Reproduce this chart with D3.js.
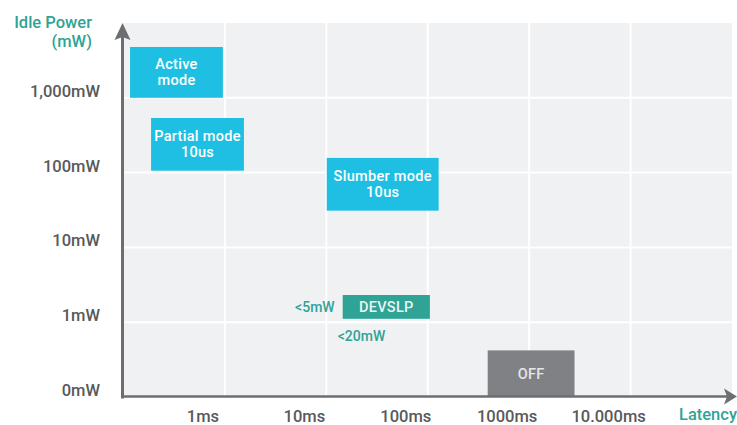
<!DOCTYPE html>
<html>
<head>
<meta charset="utf-8">
<script src="https://cdn.jsdelivr.net/npm/d3@7"></script>
<style>
  html, body { margin: 0; padding: 0; background: #ffffff; }
  svg { display: block; font-family: Roboto, "Noto Sans", sans-serif; font-weight: 500; }
</style>
</head>
<body>
<svg id="chart" width="737" height="425"></svg>
<script>
// Latency ticks (ms) and their labels
const xTicks = [1, 10, 100, 1000, 10000];
const xTickLabels = ["1ms", "10ms", "100ms", "1000ms", "10.000ms"];

// Idle power ticks (mW); the bottom of the log axis stands in for 0mW
const yTicks = [0.1, 1, 10, 100, 1000];
const yTickLabels = ["0mW", "1mW", "10mW", "100mW", "1,000mW"];

// Power states: latency range (ms) and idle power range (mW)
const stateNames  = ["Active", "Partial", "Slumber", "DEVSLP", "OFF"];
const stateLines  = [["Active", "mode"], ["Partial mode", "10us"], ["Slumber mode", "10us"], ["DEVSLP"], ["OFF"]];
const latencyLow  = [0.116, 0.187, 10.1, 14.5, 390];
const latencyHigh = [0.955, 1.54, 128, 105, 2800];
const powerLow    = [1000, 106, 31, 1.11, 0.1];
const powerHigh   = [4780, 537, 157, 2.31, 0.42];
const stateKinds  = ["link", "link", "link", "devslp", "off"];

// DEVSLP side notes
const noteTexts = ["<5mW", "<20mW"];

const colors = { link: "#1ebfe2", devslp: "#2ea396", off: "#808184" };
const textColors = { link: "#ffffff", devslp: "#e8f6f4", off: "#e6e6e6" };

const svg = d3.select("#chart");
const plot = { left: 123, right: 732, top: 23, bottom: 397 };

const x = d3.scaleLog().domain([0.1, 100000]).range([plot.left + 0.5, plot.right]);
const y = d3.scaleLog().domain([0.1, 10000]).range([plot.bottom, plot.top]);

// Plot area background
svg.append("rect")
  .attr("x", plot.left).attr("y", plot.top)
  .attr("width", plot.right - plot.left).attr("height", plot.bottom - plot.top)
  .attr("fill", "#f0f1f3");

// Grid lines
svg.append("g").selectAll("line").data(xTicks).join("line")
  .attr("x1", d => x(d)).attr("x2", d => x(d))
  .attr("y1", plot.top).attr("y2", plot.bottom)
  .attr("stroke", "#ffffff").attr("stroke-width", 2);
svg.append("g").selectAll("line").data(yTicks.slice(1)).join("line")
  .attr("x1", plot.left).attr("x2", plot.right)
  .attr("y1", d => y(d)).attr("y2", d => y(d))
  .attr("stroke", "#ffffff").attr("stroke-width", 2);

// State boxes
const states = stateNames.map((n, i) => ({
  name: n, lines: stateLines[i], kind: stateKinds[i],
  x0: latencyLow[i], x1: latencyHigh[i], y0: powerLow[i], y1: powerHigh[i]
}));

const boxes = svg.append("g").selectAll("g").data(states).join("g");
boxes.append("rect")
  .attr("x", d => x(d.x0)).attr("y", d => y(d.y1))
  .attr("width", d => x(d.x1) - x(d.x0)).attr("height", d => y(d.y0) - y(d.y1))
  .attr("fill", d => colors[d.kind]);
boxes.each(function(d) {
  const cx = (x(d.x0) + x(d.x1)) / 2;
  const cy = (y(d.y0) + y(d.y1)) / 2;
  const n = d.lines.length;
  d3.select(this).selectAll("text.line").data(d.lines).join("text")
    .attr("class", "line")
    .attr("x", cx)
    .attr("y", (t, j) => cy + 5 + (j - (n - 1) / 2) * 16)
    .attr("text-anchor", "middle")
    .attr("font-size", 14.5)
    .attr("letter-spacing", 0.3)
    .attr("fill", textColors[d.kind])
    .text(t => t);
});

// DEVSLP notes
const dev = states[3];
svg.append("text")
  .attr("x", x(dev.x0) - 8).attr("y", (y(dev.y0) + y(dev.y1)) / 2 + 5)
  .attr("text-anchor", "end").attr("font-size", 14).attr("fill", "#2ea396")
  .text(noteTexts[0]);
svg.append("text")
  .attr("x", x(dev.x0) - 5).attr("y", y(dev.y0) + 22)
  .attr("text-anchor", "start").attr("font-size", 14).attr("fill", "#2ea396")
  .text(noteTexts[1]);

// Axes lines and arrows
const axisColor = "#6d6e71";
svg.append("line")
  .attr("x1", 122.5).attr("x2", 122.5).attr("y1", 36).attr("y2", plot.bottom + 1.5)
  .attr("stroke", axisColor).attr("stroke-width", 3);
svg.append("path")
  .attr("d", "M122.5,23 L130.5,40 L122.5,37 L114.5,40 Z")
  .attr("fill", axisColor);
svg.append("line")
  .attr("x1", 121).attr("x2", 728).attr("y1", 396.5).attr("y2", 396.5)
  .attr("stroke", axisColor).attr("stroke-width", 2.5);
svg.append("path")
  .attr("d", "M737,396.5 L724,388.5 L727,396.5 L724,404.5 Z")
  .attr("fill", axisColor);

// Tick labels
const labelColor = "#58595b";
svg.append("g").selectAll("text").data(yTicks).join("text")
  .attr("x", 100).attr("y", d => y(d) - 1)
  .attr("text-anchor", "end").attr("font-size", 16.5).attr("fill", labelColor)
  .text((d, i) => yTickLabels[i]);
svg.append("g").selectAll("text").data(xTicks).join("text")
  .attr("x", d => x(d) - 22).attr("y", 421.5)
  .attr("text-anchor", "middle").attr("font-size", 16.5).attr("fill", labelColor)
  .text((d, i) => xTickLabels[i]);

// Axis titles
const titleColor = "#2ea396";
svg.append("text").attr("x", 92).attr("y", 28)
  .attr("text-anchor", "end").attr("font-size", 16.5).attr("fill", titleColor)
  .text("Idle Power");
svg.append("text").attr("x", 92).attr("y", 47)
  .attr("text-anchor", "end").attr("font-size", 16.5).attr("fill", titleColor)
  .text("(mW)");
svg.append("text").attr("x", 737).attr("y", 420)
  .attr("text-anchor", "end").attr("font-size", 16.5).attr("fill", titleColor)
  .text("Latency");
</script>
</body>
</html>
